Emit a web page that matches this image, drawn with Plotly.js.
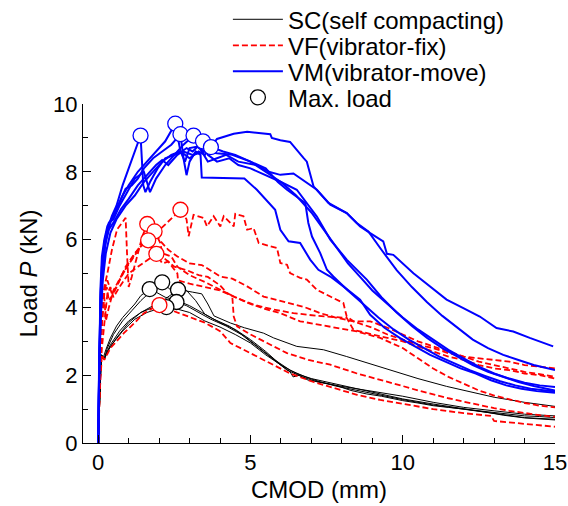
<!DOCTYPE html>
<html>
<head>
<meta charset="utf-8">
<script src="https://cdn.plot.ly/plotly-3.0.1.min.js"></script>
<style>html,body{margin:0;padding:0;background:#fff;}#chart{width:568px;height:506px;}</style>
</head>
<body>
<div id="chart"></div>
<script>
// ---- Data (CMOD mm, Load kN) ----
// SC (self compacting) curves, black
const SC1 = [[0,0],[0.05,1.8],[0.1,2.6],[0.18,2.55],[0.25,2.75],[0.4,3.1],[0.6,3.45],[0.8,3.7],[1.0,3.9],[1.2,4.1],[1.4,4.35],[1.69,4.54],[1.9,4.45],[2.2,4.3],[2.6,4.2],[3.0,4.05],[3.4,3.85],[3.8,3.65],[4.3,3.45],[4.8,3.15],[5.3,2.8],[5.8,2.45],[6.3,2.15],[6.8,1.95],[7.3,1.8],[7.8,1.7],[8.3,1.55],[8.8,1.45],[9.3,1.38],[10,1.25],[10.5,1.18],[11,1.1],[11.5,1.05],[12,1.0],[12.5,0.95],[13,0.9],[13.5,0.85],[14,0.8],[14.5,0.78],[15,0.75]];
const SC2 = [[0,0],[0.05,1.5],[0.1,2.55],[0.2,2.5],[0.3,2.8],[0.5,3.2],[0.8,3.6],[1.1,3.9],[1.4,4.2],[1.7,4.45],[2.1,4.74],[2.4,4.5],[2.8,4.5],[3.1,4.45],[3.4,4.4],[3.6,4.1],[3.8,3.75],[4.34,3.54],[4.8,3.4],[5.43,3.24],[5.76,3.1],[6.52,2.85],[7.4,2.75],[8.16,2.55],[9.26,2.25],[10,2.05],[10.5,1.9],[11.44,1.67],[12,1.55],[13,1.35],[14,1.2],[15,1.08]];
const SC3 = [[0,0],[0.1,2.6],[0.2,2.45],[0.3,2.7],[0.6,3.1],[1.0,3.55],[1.4,3.85],[1.8,4.05],[2.2,4.25],[2.62,4.52],[2.9,4.5],[3.2,4.2],[3.5,3.8],[4.0,3.55],[4.5,3.35],[5.0,3.05],[5.5,2.7],[6.0,2.3],[6.3,2.1],[6.4,1.95],[6.6,2.0],[6.9,1.85],[7.3,1.8],[7.8,1.68],[8.5,1.55],[9.3,1.4],[10,1.28],[11,1.12],[12,1.0],[13,0.88],[14,0.75],[15,0.7]];
const SC4 = [[0,0],[0.1,2.5],[0.2,2.5],[0.4,2.9],[0.7,3.3],[1.0,3.6],[1.4,3.85],[1.8,4.0],[2.2,4.1],[2.57,4.16],[2.9,4.05],[3.3,3.85],[3.7,3.65],[4.2,3.45],[4.7,3.2],[5.2,2.85],[5.7,2.5],[6.2,2.15],[6.7,1.95],[7.2,1.8],[7.8,1.7],[8.5,1.6],[9.3,1.5],[10,1.38],[11,1.2],[12,1.05],[13,0.95],[14,0.85],[15,0.8]];
const SC5 = [[0,0],[0.1,2.6],[0.2,2.5],[0.4,2.85],[0.8,3.3],[1.2,3.65],[1.6,3.85],[2.0,3.97],[2.24,4.01],[2.6,3.95],[3.0,3.85],[3.5,3.6],[4.0,3.42],[4.5,3.2],[5.0,2.95],[5.5,2.6],[6.0,2.3],[6.5,2.05],[7.0,1.9],[7.5,1.8],[8.2,1.65],[9,1.48],[10,1.3],[11,1.15],[12,1.02],[12.8,0.9],[13.3,0.82],[14,0.74],[15,0.68]];

// VF (vibrator-fix) curves, red dashed
const VF1 = [[0,0],[0.05,2.2],[0.12,3.5],[0.2,4.5],[0.3,4.8],[0.45,4.4],[0.6,4.6],[0.9,5.2],[1.2,5.6],[1.5,5.9],[1.8,6.1],[2.1,6.35],[2.4,6.6],[2.7,6.88],[2.9,6.6],[2.97,6.1],[3.13,6.73],[3.46,6.64],[3.57,6.39],[3.79,6.69],[4.01,6.39],[4.12,6.69],[4.45,6.39],[4.5,6.76],[4.77,6.69],[4.89,6.29],[5.1,6.34],[5.27,5.9],[5.65,5.8],[5.87,5.75],[5.98,5.31],[6.2,5.26],[6.3,5.01],[6.63,4.87],[6.85,4.82],[7.18,4.52],[7.62,4.32],[8.05,4.13],[8.16,3.73],[8.38,3.59],[8.93,3.59],[9.5,3.4],[10,3.2],[10.5,3.0],[11,2.85],[11.5,2.7],[12,2.55],[12.5,2.4],[13,2.3],[13.5,2.2],[14,2.1],[14.5,2.03],[15,1.95]];
const VF2 = [[0,0],[0.05,2.5],[0.12,4.0],[0.2,4.6],[0.3,5.0],[0.45,5.7],[0.62,6.3],[0.9,6.64],[0.95,5.5],[1.0,4.6],[1.1,4.9],[1.3,5.6],[1.45,6.1],[1.61,6.46],[1.8,6.3],[2.0,6.0],[2.3,5.7],[2.6,5.5],[3.0,5.3],[3.4,5.25],[4.01,4.91],[4.4,4.85],[4.89,4.62],[5.43,4.32],[6.2,4.13],[6.8,4.0],[7.29,3.83],[7.8,3.7],[8.38,3.59],[9,3.4],[9.5,3.2],[10,3.05],[10.5,2.9],[11,2.8],[11.5,2.65],[12,2.55],[12.5,2.5],[13,2.45],[13.5,2.4],[14,2.3],[14.5,2.25],[15,2.2]];
const VF3 = [[0,0],[0.05,2],[0.12,3.5],[0.2,4.4],[0.28,4.6],[0.35,4.2],[0.5,4.4],[0.7,4.8],[1.0,5.3],[1.3,5.7],[1.6,6.05],[1.85,6.24],[2.04,5.9],[2.1,5.6],[2.4,5.5],[2.6,5.2],[3.0,4.95],[3.5,4.75],[4.01,4.52],[4.5,4.3],[5.1,4.08],[5.7,3.95],[6.41,3.83],[7.2,3.75],[8.16,3.69],[8.38,3.34],[9,3.2],[9.5,3.1],[10,3.0],[10.5,2.85],[11,2.7],[11.5,2.55],[12,2.45],[12.5,2.3],[13,2.2],[13.5,2.15],[14,2.05],[14.5,2.0],[15,1.9]];
const VF4 = [[0,0],[0.05,2.2],[0.12,3.8],[0.2,4.3],[0.25,3.6],[0.35,4.0],[0.5,4.5],[0.8,5.0],[1.1,5.4],[1.4,5.8],[1.64,5.98],[1.8,5.7],[2.1,5.5],[2.5,5.2],[2.9,5.1],[3.3,4.95],[3.6,4.9],[4.0,4.65],[4.23,4.42],[4.4,4.35],[4.45,3.73],[4.56,3.44],[5.0,3.2],[5.43,3.0],[6.2,2.65],[6.9,2.45],[7.62,2.31],[8.5,2.05],[9.26,1.87],[10,1.68],[10.5,1.55],[11,1.43],[11.5,1.32],[12,1.22],[12.5,1.12],[13,1.03],[13.5,0.95],[14,0.88],[14.5,0.82],[15,0.77]];
const VF5 = [[0,0],[0.05,1.8],[0.12,2.8],[0.2,3.5],[0.3,4.4],[0.4,4.6],[0.5,4.3],[0.7,4.6],[1.0,5.0],[1.3,5.2],[1.6,5.4],[1.91,5.58],[2.1,5.3],[2.3,5.35],[2.6,5.0],[2.62,4.8],[3.0,4.7],[3.5,4.6],[4.0,4.5],[4.5,4.3],[5.0,4.1],[5.5,3.95],[5.98,3.83],[6.63,3.59],[7.62,3.44],[8.49,3.29],[9.26,3.1],[10,2.8],[10.5,2.5],[11,2.2],[11.5,1.95],[12,1.75],[12.5,1.55],[13,1.4],[13.5,1.28],[14,1.18],[14.5,1.1],[15,1.05]];
const VF6 = [[0,0],[0.05,1.5],[0.12,2.6],[0.2,2.45],[0.4,2.8],[0.84,3.24],[1.2,3.55],[1.5,3.83],[1.8,3.98],[2.01,4.07],[2.3,3.95],[2.6,3.85],[3.0,3.7],[3.5,3.55],[4.0,3.3],[4.34,2.95],[5.0,2.65],[5.65,2.36],[6.3,2.05],[7.07,1.8],[7.8,1.6],[8.5,1.42],[9.26,1.27],[10,1.15],[11,1.0],[12,0.88],[12.9,0.8],[13.0,0.65],[14,0.56],[15,0.48]];

// VM (vibrator-move) curves, blue
const VM1 = [[0,0],[0.03,2.5],[0.07,4.2],[0.12,5.2],[0.2,5.9],[0.3,6.3],[0.45,6.7],[0.6,7.0],[0.8,7.6],[1.0,8.1],[1.2,8.6],[1.39,9.07],[1.48,7.6],[1.55,7.4],[1.7,7.7],[1.95,8.1],[2.2,8.4],[2.5,8.5],[2.8,8.6],[3.1,8.5],[3.5,8.6],[3.9,8.55],[4.4,8.5],[5.0,8.3],[5.5,8.0],[6.0,7.7],[6.52,7.47],[6.85,7.08],[7.18,6.68],[7.62,6.0],[8.16,5.41],[8.82,4.82],[9.3,4.3],[9.8,3.85],[10.3,3.45],[10.8,3.1],[11.3,2.8],[11.8,2.55],[12.3,2.3],[12.8,2.1],[13.3,1.95],[13.8,1.8],[14.3,1.68],[15,1.55]];
const VM2 = [[0,0],[0.03,2.2],[0.08,4.0],[0.15,5.2],[0.25,6.0],[0.4,6.5],[0.6,6.9],[0.8,7.3],[1.0,7.6],[1.3,8.0],[1.6,8.3],[1.9,8.6],[2.2,8.9],[2.53,9.42],[2.7,8.6],[2.85,8.3],[3.0,8.7],[3.3,8.75],[3.6,8.3],[3.9,8.4],[4.2,8.5],[4.6,8.3],[5.2,8.2],[5.6,8.0],[5.98,7.91],[6.41,7.95],[7.07,7.55],[7.18,7.47],[7.62,7.03],[8.16,6.78],[8.49,6.49],[8.87,6.24],[9.3,5.7],[9.8,5.1],[10.3,4.6],[10.8,4.15],[11.3,3.75],[11.8,3.4],[12.3,3.05],[12.8,2.8],[13.3,2.6],[13.8,2.45],[14.3,2.3],[15,2.15]];
const VM3 = [[0,0],[0.03,2.8],[0.07,4.5],[0.12,5.5],[0.2,6.0],[0.3,6.4],[0.5,6.7],[0.7,7.1],[0.9,7.5],[1.1,7.6],[1.3,7.8],[1.5,8.1],[1.8,8.4],[2.1,8.6],[2.4,8.8],[2.7,9.11],[2.8,8.4],[2.9,7.9],[3.0,8.3],[3.2,8.6],[3.36,8.5],[3.4,7.83],[4.0,7.82],[4.8,7.8],[5.21,7.47],[5.5,7.2],[5.81,6.88],[5.98,6.29],[6.25,5.95],[6.63,5.9],[6.96,5.41],[7.23,5.11],[7.62,4.91],[8.05,4.62],[8.6,4.23],[8.93,3.78],[9.4,3.4],[9.9,3.1],[10.4,2.85],[10.9,2.6],[11.4,2.4],[11.9,2.2],[12.4,2.05],[12.9,1.85],[13.4,1.7],[13.9,1.6],[14.4,1.53],[15,1.48]];
const VM4 = [[0,0],[0.03,2.5],[0.08,4.3],[0.14,5.4],[0.22,6.0],[0.35,6.5],[0.5,6.6],[0.7,7.0],[0.95,7.4],[1.2,7.8],[1.5,8.0],[1.7,7.4],[1.9,7.8],[2.2,8.2],[2.5,8.5],[2.8,8.8],[3.13,9.07],[3.3,8.7],[3.5,8.6],[3.8,8.7],[4.1,8.6],[4.5,8.5],[5.0,8.3],[5.5,8.1],[5.9,7.7],[6.2,7.47],[6.8,7.08],[6.9,6.49],[7.02,6.09],[7.29,5.6],[7.51,5.11],[7.72,4.91],[8.2,4.5],[8.7,4.1],[9.2,3.7],[9.7,3.35],[10.2,3.05],[10.7,2.8],[11.2,2.55],[11.7,2.35],[12.2,2.15],[12.7,1.98],[13.2,1.82],[13.7,1.7],[14.2,1.6],[15,1.52]];
const VM5 = [[0,0],[0.03,2.2],[0.08,3.8],[0.14,5.0],[0.22,5.8],[0.35,6.3],[0.5,6.5],[0.75,6.9],[1.0,7.2],[1.3,7.6],[1.6,7.9],[1.9,8.2],[2.1,8.35],[2.3,8.2],[2.6,8.5],[2.9,8.7],[3.1,8.6],[3.44,8.9],[3.6,8.5],[3.9,8.3],[4.3,8.4],[4.6,8.2],[5.0,8.1],[5.5,7.9],[6.0,7.7],[6.5,7.3],[7.0,6.8],[7.4,6.3],[7.8,5.8],[8.2,5.3],[8.6,4.9],[9.0,4.5],[9.5,4.1],[10,3.7],[10.5,3.35],[11,3.05],[11.5,2.75],[12,2.5],[12.5,2.25],[13,2.05],[13.5,1.9],[14,1.78],[14.5,1.7],[15,1.65]];
const VM6 = [[0,0],[0.03,2.0],[0.08,3.6],[0.15,4.8],[0.25,5.6],[0.4,6.2],[0.6,6.6],[0.9,7.0],[1.2,7.3],[1.5,7.7],[1.8,8.0],[2.1,8.3],[2.4,8.5],[2.7,8.6],[3.0,8.4],[3.3,8.6],[3.5,8.5],[3.7,8.73],[3.9,8.97],[4.45,9.12],[4.89,9.18],[5.65,9.11],[5.7,9.0],[5.98,8.93],[6.3,8.88],[6.74,8.41],[6.85,8.3],[7.07,7.57],[7.56,7.08],[8.16,6.78],[8.6,6.39],[8.93,6.19],[9.36,5.95],[9.48,5.58],[9.69,5.55],[10.35,5.01],[10.9,4.62],[11.44,4.23],[11.99,3.98],[12.53,3.73],[13.08,3.39],[13.63,3.29],[14.17,3.1],[14.94,2.85]];

// Max. load points
const MAX_SC_X = [1.69, 2.10, 2.62, 2.57, 2.24];
const MAX_SC_Y = [4.54, 4.74, 4.52, 4.16, 4.01];
const MAX_VF_X = [2.70, 1.61, 1.85, 1.64, 1.91, 2.01];
const MAX_VF_Y = [6.88, 6.46, 6.24, 5.98, 5.58, 4.07];
const MAX_VM_X = [1.39, 2.53, 2.70, 3.13, 3.44, 3.70];
const MAX_VM_Y = [9.07, 9.42, 9.11, 9.07, 8.90, 8.73];

const X_TICKS = [0, 5, 10, 15];
const Y_TICKS = [0, 2, 4, 6, 8, 10];
const SERIES_NAMES = ['SC(self compacting)', 'VF(vibrator-fix)', 'VM(vibrator-move)', 'Max. load'];

// ---- Build traces ----
function curveTrace(pts, name, legendId, line, show) {
  return {
    x: pts.map(p => p[0]), y: pts.map(p => p[1]),
    type: 'scatter', mode: 'lines', name: name, legend: legendId,
    showlegend: show, line: line, hoverinfo: 'skip'
  };
}
const scLine = {color: '#000000', width: 1};
const vfLine = {color: '#ff0000', width: 1.8, dash: '6px,3px'};
const vmLine = {color: '#0000ff', width: 2};

const traces = [];
[SC1, SC2, SC3, SC4, SC5].forEach((c, i) => traces.push(curveTrace(c, SERIES_NAMES[0], 'legend', scLine, i === 0)));
[VF1, VF2, VF3, VF4, VF5, VF6].forEach((c, i) => traces.push(curveTrace(c, SERIES_NAMES[1], 'legend2', vfLine, i === 0)));
[VM1, VM2, VM3, VM4, VM5, VM6].forEach((c, i) => traces.push(curveTrace(c, SERIES_NAMES[2], 'legend3', vmLine, i === 0)));

function markerTrace(xs, ys, color, show) {
  return {
    x: xs, y: ys, type: 'scatter', mode: 'markers', name: SERIES_NAMES[3],
    legend: 'legend4', showlegend: show, hoverinfo: 'skip',
    marker: {symbol: 'circle', size: 15, color: '#ffffff', line: {color: color, width: 1.3}}
  };
}
traces.push(markerTrace(MAX_SC_X, MAX_SC_Y, '#000000', true));
traces.push(markerTrace(MAX_VF_X, MAX_VF_Y, '#ff0000', false));
traces.push(markerTrace(MAX_VM_X, MAX_VM_Y, '#0000ff', false));

const FONT = 'Liberation Sans, Arial, sans-serif';
function legendAt(yPaper) {
  return {
    x: 0.307, y: yPaper, xanchor: 'left', yanchor: 'middle',
    bgcolor: 'rgba(0,0,0,0)', borderwidth: 0, tracegroupgap: 0, itemwidth: 50,
    font: {family: FONT, size: 24, color: '#000000'}
  };
}
const layout = {
  width: 568, height: 506,
  margin: {l: 83, r: 13, t: 104, b: 63, autoexpand: false},
  paper_bgcolor: '#ffffff', plot_bgcolor: '#ffffff',
  font: {family: FONT, color: '#000000', size: 20},
  showlegend: true,
  legend: legendAt(1.2487),
  legend2: legendAt(1.172),
  legend3: legendAt(1.0953),
  legend4: legendAt(1.0186),
  xaxis: {
    range: [-0.5, 15], tickvals: X_TICKS, ticktext: X_TICKS.map(String),
    ticks: 'inside', ticklen: 8, tickwidth: 1, tickcolor: '#000',
    minor: {dtick: 1, tick0: 0, ticks: 'inside', ticklen: 5, tickwidth: 1, tickcolor: '#000', showgrid: false},
    showline: true, linecolor: '#000', linewidth: 1, showgrid: false, zeroline: false,
    tickfont: {family: FONT, size: 22, color: '#000'},
    title: {text: 'CMOD (mm)', font: {family: FONT, size: 24, color: '#000'}, standoff: 6},
    automargin: false
  },
  yaxis: {
    range: [0, 10], tickvals: Y_TICKS, ticktext: Y_TICKS.map(String),
    ticks: 'inside', ticklen: 8, tickwidth: 1, tickcolor: '#000',
    minor: {dtick: 1, tick0: 0, ticks: 'inside', ticklen: 5, tickwidth: 1, tickcolor: '#000', showgrid: false},
    showline: true, linecolor: '#000', linewidth: 1, showgrid: false, zeroline: false,
    tickfont: {family: FONT, size: 22, color: '#000'},
    title: {text: 'Load <i>P</i> (kN)', font: {family: FONT, size: 24, color: '#000'}, standoff: 8},
    automargin: false
  }
};

Plotly.newPlot('chart', traces, layout, {displayModeBar: false, staticPlot: true});
</script>
</body>
</html>
